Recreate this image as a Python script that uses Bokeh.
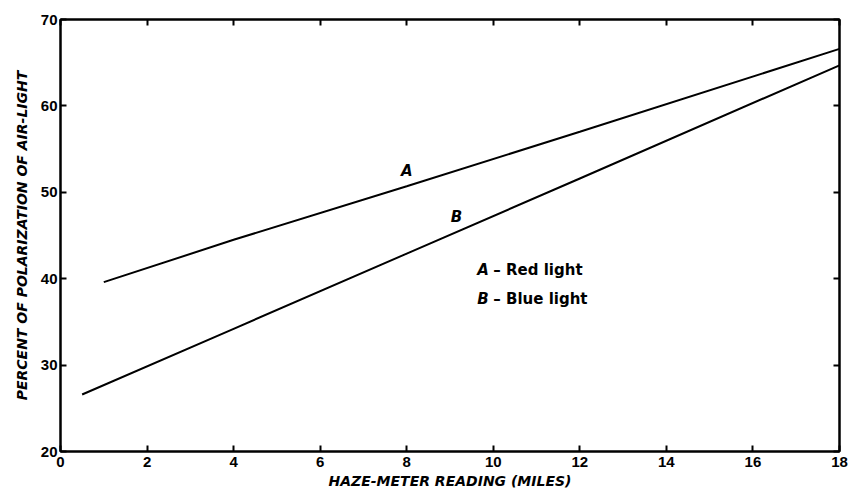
from bokeh.plotting import figure
from bokeh.models import LinearAxis, FixedTicker, Range1d
from bokeh.core.properties import value
from bokeh.embed import file_html
from bokeh.resources import INLINE

# Data
red_x = [1.0, 4.0, 8.0, 12.0, 18.0]
red_y = [39.6, 44.5, 50.7, 57.0, 66.6]
blue_x = [0.5, 4.0, 8.0, 12.0, 18.0]
blue_y = [26.6, 34.2, 42.9, 51.6, 64.7]
x_ticks = [0, 2, 4, 6, 8, 10, 12, 14, 16, 18]
y_ticks = [20, 30, 40, 50, 60, 70]

FONT = "Liberation Sans"
WIDE = "DejaVu Sans"

p = figure(frame_width=779, frame_height=432, width=849, height=491,
           x_range=Range1d(0, 18), y_range=Range1d(20, 70),
           output_backend="svg", toolbar_location=None,
           min_border_left=60, min_border_right=10, min_border_top=19, min_border_bottom=40)

p.background_fill_color = "white"
p.border_fill_color = "white"
p.outline_line_color = "black"
p.outline_line_width = 2
p.xgrid.visible = False
p.ygrid.visible = False

for ax, ticks in ((p.xaxis[0], x_ticks), (p.yaxis[0], y_ticks)):
    ax.ticker = FixedTicker(ticks=ticks)
    ax.major_tick_in = 6
    ax.major_tick_out = 0
    ax.minor_tick_line_color = None
    ax.axis_line_width = 2
    ax.major_tick_line_width = 2
    ax.major_label_text_font = FONT
    ax.major_label_text_font_style = "bold"
    ax.major_label_text_font_size = "15px"
    ax.major_label_text_color = "black"
    ax.axis_label_text_font = WIDE
    ax.axis_label_text_font_style = "bold italic"
    ax.axis_label_text_font_size = "14px"
    ax.axis_label_text_color = "black"

p.xaxis.axis_label = "HAZE-METER READING (MILES)"
p.yaxis.axis_label = "PERCENT OF POLARIZATION OF AIR-LIGHT"
p.xaxis.major_label_standoff = 5
p.xaxis.axis_label_standoff = 3
p.yaxis.major_label_standoff = 3
p.yaxis.axis_label_standoff = 8

top = LinearAxis(ticker=FixedTicker(ticks=x_ticks), major_tick_in=6, major_tick_out=0,
                 minor_tick_line_color=None, major_label_standoff=0,
                 major_label_overrides={t: "" for t in x_ticks},
                 axis_line_width=2, major_tick_line_width=2)
right = LinearAxis(ticker=FixedTicker(ticks=y_ticks), major_tick_in=6, major_tick_out=0,
                   minor_tick_line_color=None, major_label_standoff=0,
                   major_label_overrides={t: "" for t in y_ticks},
                   axis_line_width=2, major_tick_line_width=2)
p.add_layout(top, "above")
p.add_layout(right, "right")

p.line(red_x, red_y, line_color="black", line_width=2)
p.line(blue_x, blue_y, line_color="black", line_width=2)

p.text(x=[8.0], y=[52.5], text=["A"], text_font=value(WIDE), text_font_style="bold italic",
       text_font_size="15px", text_align="center", text_baseline="middle")
p.text(x=[9.15], y=[47.1], text=["B"], text_font=value(WIDE), text_font_style="bold italic",
       text_font_size="15px", text_align="center", text_baseline="middle")

p.text(x=[9.63, 9.63], y=[41.0, 37.7], text=["A", "B"], text_font=value(WIDE),
       text_font_style="bold italic", text_font_size="15px", text_align="left",
       text_baseline="middle")
p.text(x=[10.0, 10.0], y=[41.0, 37.7], text=["– Red light", "– Blue light"],
       text_font=value(WIDE), text_font_style="bold", text_font_size="15px",
       text_align="left", text_baseline="middle")

open("out.html", "w").write(file_html(p, INLINE))
